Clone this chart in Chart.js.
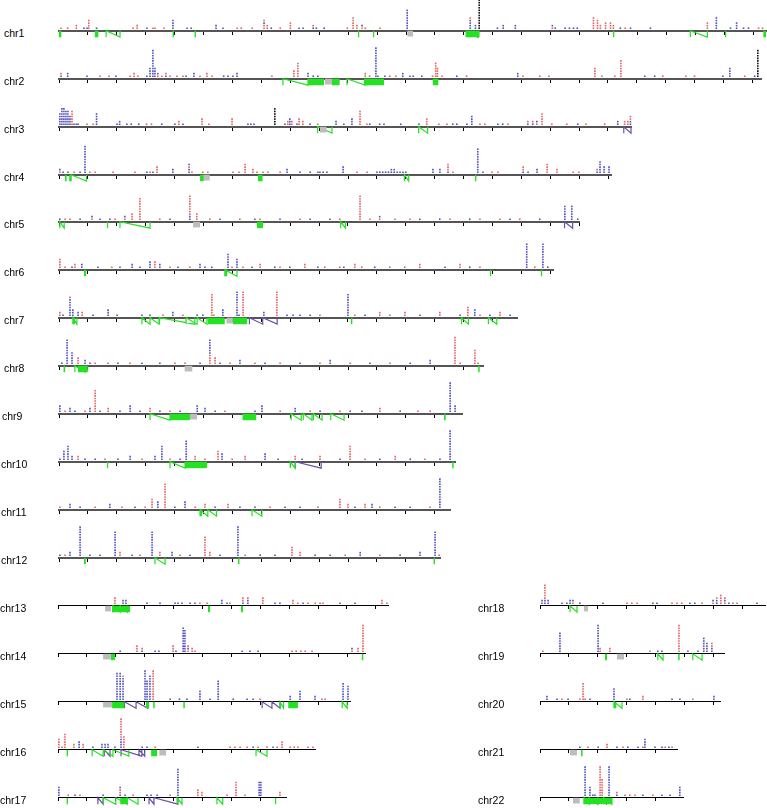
<!DOCTYPE html>
<html>
<head>
<meta charset="utf-8">
<script src="https://cdn.jsdelivr.net/npm/chart.js@4/dist/chart.umd.min.js"></script>
<style>
body { margin:0; background:#fff; width:767px; height:808px; overflow:hidden; position:relative; font-family:"Liberation Sans", Arial, sans-serif; }
canvas { position:absolute; }
.lab { position:absolute; font-size:10.5px; line-height:14px; color:#000; }
</style>
</head>
<body>
<script>
// chromosome names and lengths (Mb)
var chroms = ['chr1','chr2','chr3','chr4','chr5','chr6','chr7','chr8','chr9','chr10','chr11','chr12',
              'chr13','chr14','chr15','chr16','chr17','chr18','chr19','chr20','chr21','chr22'];
var lengths = [250, 243, 198, 191, 180, 171, 158.5, 146.7, 139.4, 137, 135.3, 131.8,
               114.2, 106.2, 101, 88.9, 78.9, 77.9, 63.7, 62.3, 47.4, 49.5];

// centromere spans (Mb)
var centromeres = [[120.4,122.5],[92,94.5],[90.3,92.7],[49.8,52.2],[46.4,48.8],null,[57.9,60.2],[43.4,46.2],
                   [45.3,47.8],null,null,null,[16.3,18.3],[15.6,18.3],[15.6,18.7],[35,37.4],null,
                   [15.2,16.6],[26.6,29.1],null,[10.4,12.8],[11.4,13.8]];

// stacked calls per chromosome: [position Mb, colours bottom->top] r=red b=blue k=black
var stacks = [
 // chr1
 [[0.7,'r'],[3,'r'],[6,'rr'],[8.6,'b'],[9.7,'b'],[10.3,'rrrr'],[13,'b'],[25.6,'r'],[27,'rr'],[30.4,'b'],[32.5,'r'],[33.2,'r'],
  [36.3,'r'],[39.4,'bbbb'],[44.3,'b'],[45.7,'b'],[54.3,'bb'],[56.7,'b'],[61.6,'r'],[63,'r'],[66.8,'r'],[70.9,'rrbr'],[72,'rr'],
  [73.4,'b'],[76.5,'r'],[80,'rrr'],[83,'b'],[84.4,'b'],[87.9,'br'],[89,'b'],[91.7,'b'],[99.7,'r'],[101.7,'rrrrr'],[103,'rr'],
  [104.8,'rb'],[105.9,'r'],[111,'r'],[120.4,'bbbbbbbb'],[142.2,'bbbbr'],[144,'bb'],[145.3,'kkkkkkkkkkkkk'],[151.6,'b'],
  [153.6,'bb'],[157.8,'bb'],[170.6,'rb'],[171.6,'b'],[175,'b'],[176.5,'b'],[177.9,'b'],[179.2,'b'],[184.8,'rrrrr'],[186.2,'rrrr'],
  [187.2,'rr'],[189,'rrr'],[190.7,'rrr'],[191.7,'rr'],[194.1,'b'],[195.8,'r'],[197.6,'b'],[204.5,'b'],[224.2,'rrr'],[227.3,'bbbbb'],
  [232.2,'b'],[234.3,'bbb'],[236.7,'b'],[238.4,'b'],[241.9,'r'],[243.3,'r']],
 // chr2
 [[0.7,'br'],[3,'bb'],[9.7,'b'],[14.2,'r'],[17.3,'r'],[19.7,'b'],[24.6,'r'],[26,'rr'],[27.3,'r'],[30.4,'b'],[31.5,'bbbb'],
  [32.5,'bbbbbbbbbbb'],[33.2,'bbbb'],[34.2,'rb'],[35.6,'r'],[37,'br'],[38.4,'r'],[40.8,'r'],[42.9,'r'],[44,'b'],[46.7,'bb'],
  [48.8,'r'],[51.2,'rr'],[53,'r'],[57,'b'],[58.5,'b'],[60.2,'b'],[61.6,'bb'],[73.7,'r'],[81.3,'rrr'],[82.7,'rrrrrr'],[86.2,'bb'],
  [88,'b'],[89.6,'b'],[106,'rr'],[107.5,'r'],[109.7,'bbbbbbbbbbbb'],[110.4,'b'],[112.8,'b'],[114.5,'r'],[116.6,'r'],[119,'bb'],
  [121.5,'b'],[122.6,'b'],[125.6,'b'],[129.3,'r'],[130.4,'rrrrrr'],[131,'rrrr'],[132.6,'r'],[137.7,'b'],[141.1,'r'],[158.8,'bb'],
  [160.6,'r'],[166.4,'r'],[169.6,'r'],[185.5,'rrrr'],[187.9,'r'],[192.4,'r'],[194.5,'rrrrrrr'],[202.8,'b'],[206.2,'b'],[209,'r'],
  [217,'r'],[220,'r'],[229.8,'b'],[232.2,'bbbb'],[237.4,'r'],[240.8,'b'],[241.9,'kkkkkkkkkkk']],
 // chr3
 [[0.3,'bbbbb'],[1,'bbbbbbb'],[1.7,'bbbbbbb'],[2.4,'bbbbbb'],[3.1,'bbbbbb'],[3.8,'bbbb'],[4.5,'rrrrrr'],[5.2,'b'],[6,'b'],[6.6,'b'],
  [9.7,'r'],[11.8,'r'],[13,'bbbbb'],[20.1,'b'],[21,'bb'],[23.5,'b'],[25,'b'],[27.6,'b'],[30.3,'r'],[32,'r'],[35.6,'b'],[40.1,'b'],
  [41.5,'rr'],[42.9,'b'],[49.5,'rrr'],[51.9,'r'],[59.9,'rrr'],[65.4,'b'],[66.4,'b'],[67.5,'b'],[74.7,'kkkkkkk'],[78.2,'b'],
  [79.2,'rr'],[79.9,'bbb'],[80.6,'rr'],[82.4,'b'],[83.1,'rrr'],[84.4,'rr'],[86.9,'b'],[89.6,'r'],[95.9,'bb'],[98.6,'b'],
  [101.4,'bbb'],[104.2,'rrrrrr'],[106.6,'r'],[107.6,'b'],[111,'b'],[112.5,'b'],[118.3,'b'],[124.6,'b'],[127.3,'rrr'],[131.5,'r'],
  [134.3,'r'],[136.3,'b'],[137.7,'b'],[141.2,'b'],[142.9,'bbbb'],[145.7,'r'],[147.4,'r'],[151.9,'b'],[153.6,'b'],[155.4,'r'],
  [162.3,'br'],[164,'br'],[165.4,'rb'],[167.2,'rrrrr'],[170.6,'r'],[175.8,'r'],[179.6,'b'],[182.4,'r'],[188.9,'r'],[193.4,'bb'],
  [195.8,'rr'],[196.9,'rr'],[197.8,'bbrr']],
 // chr4
 [[0.3,'rb'],[1.4,'b'],[3.1,'b'],[5.2,'r'],[7.3,'b'],[9,'bbbbbbbbbbb'],[10.7,'r'],[12.5,'r'],[18.7,'r'],[26.3,'r'],[30.4,'b'],
  [31.5,'r'],[32.5,'b'],[33.9,'rrr'],[39.4,'bb'],[45,'bbrb'],[46,'r'],[49.8,'r'],[51.5,'r'],[60.2,'r'],[62.3,'r'],[64.4,'rrrr'],
  [67.1,'rr'],[68.5,'r'],[70.6,'r'],[72.3,'r'],[76.5,'r'],[78.9,'bb'],[83.4,'b'],[86.9,'b'],[89.6,'b'],[90.3,'b'],[91.4,'b'],
  [92.7,'b'],[98.3,'bbb'],[103.1,'r'],[106.6,'r'],[110,'b'],[111,'b'],[112,'b'],[113,'b'],[114,'b'],[115,'bb'],[116,'bb'],
  [117,'b'],[118,'b'],[119,'b'],[120,'b'],[129.4,'bb'],[131.8,'bb'],[134.6,'brrr'],[136.3,'r'],[144.9,'bbbbbbbbbb'],[146.7,'b'],
  [149.8,'r'],[151.9,'r'],[160.6,'brr'],[162.3,'b'],[165.4,'bb'],[168.9,'rrrr'],[172.3,'rr'],[177.9,'r'],[179.9,'r'],[186.2,'br'],
  [187.2,'bbbbb'],[188.6,'bbb'],[190.3,'bbb']],
 // chr5
 [[0.3,'b'],[2.1,'r'],[3.8,'r'],[7.3,'b'],[11.4,'rb'],[14.2,'b'],[17.6,'b'],[19.4,'r'],[22.8,'rb'],[25.3,'rrr'],[28,'rrrrrrrrr'],
  [34.9,'r'],[38.4,'b'],[45.3,'bbrrrrrrrr'],[47.7,'rrr'],[52.2,'r'],[55.7,'b'],[62.6,'r'],[67.8,'b'],[69.6,'r'],[76.5,'b'],
  [83.4,'r'],[86.9,'b'],[93.8,'b'],[97.2,'r'],[104.2,'rrrrrrrrrr'],[107.6,'r'],[111,'rb'],[116.3,'r'],[121.5,'r'],[124.9,'b'],
  [131.8,'b'],[135.3,'r'],[142.2,'b'],[145.7,'r'],[152.6,'r'],[156.1,'b'],[159.5,'r'],[166.4,'b'],[175.1,'bbbbbb'],
  [177.5,'bbbbbb'],[179.6,'b']],
 // chr6
 [[0.3,'rrrr'],[2.1,'r'],[4.5,'b'],[5.5,'rr'],[7.9,'bb'],[13.5,'b'],[18.3,'r'],[21.1,'b'],[25.3,'bb'],[28,'b'],[31.5,'bbb'],
  [33.2,'rrr'],[34.9,'bb'],[38.4,'r'],[41.2,'b'],[45.3,'r'],[48.8,'bb'],[50.5,'b'],[52.9,'b'],[58.5,'bbbbbb'],[59.9,'r'],
  [61.6,'bbbb'],[63.7,'r'],[66.8,'b'],[69.6,'rr'],[74.7,'b'],[76.5,'r'],[79.9,'b'],[85.1,'rr'],[89.6,'b'],[92,'r'],[97.2,'r'],
  [98.6,'b'],[102.4,'rr'],[104.8,'r'],[109.3,'b'],[114.5,'r'],[119.7,'r'],[124.9,'rr'],[133.6,'b'],[138.8,'rr'],[142.2,'b'],
  [145.7,'r'],[161.9,'bbbbbbbbbb'],[164.7,'r'],[167.5,'bbbbbbbbbb'],[169.2,'b']],
 // chr7
 [[0.3,'rr'],[1.4,'b'],[3.8,'bbbbbbbr'],[4.8,'bbb'],[6.6,'bb'],[8,'rr'],[11.8,'b'],[17,'bbb'],[20.1,'b'],[28.7,'b'],[31.5,'b'],
  [36,'r'],[39.4,'bb'],[42.9,'r'],[47.8,'b'],[49.8,'b'],[52.9,'rrrrrrrrr'],[53.6,'r'],[56.7,'bbb'],[61.6,'bbbbrbbbbb'],[62.3,'b'],
  [63.7,'rrrrrrrrrr'],[70.9,'bb'],[75.4,'rrrrrrrrrr'],[78.9,'b'],[81,'b'],[83.4,'b'],[86.9,'b'],[90.3,'r'],[100,'bbbbbbbbb'],
  [102.4,'r'],[105.9,'b'],[111,'rr'],[114.5,'r'],[119.7,'rr'],[124.9,'b'],[131.8,'rr'],[138.8,'b'],[141.5,'rrrr'],[143.9,'bbb'],
  [145.7,'r'],[149.1,'b'],[152.6,'rr'],[156.1,'b']],
 // chr8
 [[1,'b'],[2.8,'bbbbbbbbbb'],[4.5,'bbbbb'],[6.6,'rrr'],[9,'bb'],[10.7,'b'],[12.5,'r'],[17,'r'],[20.4,'b'],[24.6,'r'],[28.7,'b'],
  [34.9,'b'],[40.1,'r'],[43.6,'r'],[48.8,'b'],[52.2,'rrrrbbbbbb'],[54,'rrr'],[55.7,'b'],[59.2,'r'],[62.6,'bb'],[67.8,'r'],
  [71.3,'b'],[76.5,'r'],[83.4,'b'],[90.3,'r'],[93.8,'bb'],[100.7,'r'],[107.6,'b'],[114.5,'r'],[121.5,'b'],[128.4,'bb'],
  [137,'rrrrrrrrrrr'],[138.8,'r'],[143.9,'rrrrrr'],[145,'r']],
 // chr9
 [[0.3,'bbb'],[2.1,'r'],[3.8,'bb'],[5.5,'b'],[9,'r'],[10.7,'bb'],[12.5,'rrrrrrrrr'],[14.2,'b'],[17,'rr'],[21.1,'b'],[24.6,'bbb'],
  [28,'b'],[31.5,'rr'],[34.9,'b'],[38.4,'r'],[41.9,'b'],[47.8,'bbb'],[50.5,'bb'],[54,'b'],[57.4,'r'],[67.8,'b'],[70.2,'bbb'],
  [76.5,'r'],[81.7,'bb'],[86.9,'r'],[90.3,'b'],[97.2,'r'],[100.7,'b'],[104.8,'b'],[111,'rr'],[118,'b'],[124.2,'r'],[128.4,'r'],
  [135.3,'bbbbbbbbbbbb'],[137,'bbb']],
 // chr10
 [[0.3,'b'],[1.7,'bbbb'],[3.1,'bbbbbb'],[4.5,'bb'],[6.6,'rr'],[9,'b'],[12.5,'b'],[15.9,'r'],[20.4,'b'],[24.6,'bb'],[28.7,'r'],
  [33.2,'bb'],[35.6,'bbbbbb'],[38.4,'r'],[41.9,'b'],[44,'bbbbbbbb'],[47.1,'rr'],[50.5,'r'],[55,'rrrr'],[56.4,'bbb'],[59.9,'r'],
  [64.4,'rr'],[71.3,'bbb'],[75.8,'b'],[81.7,'rr'],[84.1,'b'],[90.3,'rr'],[97.2,'b'],[100.7,'rrrrrr'],[105.9,'r'],[111,'b'],
  [116.3,'rr'],[121.5,'b'],[126.6,'r'],[131.8,'b'],[135.3,'bbbbbbbbbbbb']],
 // chr11
 [[0.3,'r'],[3.8,'bb'],[7.3,'b'],[12.5,'r'],[17.6,'bb'],[21.8,'r'],[26.3,'b'],[29.8,'r'],[32.2,'rrrr'],[34.2,'bbb'],
  [36.7,'rrrrrrrrrr'],[40.1,'b'],[43.6,'bbb'],[47.1,'r'],[50.5,'rr'],[54,'b'],[58.5,'rr'],[62.6,'b'],[67.8,'b'],[73,'r'],
  [78.2,'b'],[83.4,'b'],[89.6,'r'],[97.2,'rrrr'],[100,'rr'],[102.4,'b'],[105.9,'rr'],[108.3,'bb'],[111,'r'],[116.3,'b'],
  [121.5,'b'],[128.4,'r'],[131.8,'bbbbbbbbbbbb']],
 // chr12
 [[0.3,'b'],[2.1,'r'],[3.8,'bb'],[7.3,'bbbbbbbbbbbb'],[10.7,'b'],[14.2,'b'],[19.4,'bbbbbbbbbb'],[21.1,'rr'],[25.3,'b'],[28,'r'],
  [32.2,'bbbbbbbbbb'],[34.9,'rr'],[39.1,'bb'],[41.9,'r'],[45.3,'b'],[50.5,'rrrrrrrr'],[52.2,'rr'],[55.7,'b'],[61.9,'bbbbbbbbbbbb'],
  [64.4,'r'],[69.6,'b'],[74.7,'b'],[80.6,'rrrr'],[83.4,'rr'],[88.6,'b'],[93.8,'b'],[99,'r'],[104.2,'bb'],[111,'r'],[118,'b'],
  [124.9,'bb'],[130.1,'bbbbbbbbbb'],[131.5,'r']],
 // chr13
 [[19.7,'rrr'],[22.5,'bb'],[23.5,'bb'],[30.8,'b'],[35.3,'b'],[40.5,'b'],[41.5,'b'],[42.9,'b'],[45.7,'b'],[47.4,'b'],[49.1,'r'],
  [51.6,'r'],[56.7,'bb'],[58.5,'b'],[59.5,'r'],[64,'brr'],[65.7,'bbr'],[70.9,'rrr'],[75.1,'b'],[76.8,'b'],[81.3,'rr'],[83,'r'],
  [84.8,'b'],[86.5,'r'],[89,'r'],[90.7,'r'],[91.7,'r'],[97.6,'b'],[102.8,'b'],[112.1,'rr'],[113.8,'r']],
 // chr14
 [[21.5,'b'],[27.3,'rrr'],[29.1,'br'],[33.6,'b'],[34.9,'b'],[39.8,'rrr'],[40.8,'b'],[43.3,'bbbbbbbbbb'],[43.9,'bbbbbbbbb'],
  [45,'rbr'],[46.4,'rr'],[47.4,'r'],[63.7,'b'],[66.4,'b'],[69.2,'b'],[81,'r'],[82.4,'r'],[84,'r'],[85.5,'r'],[87.9,'r'],
  [101.7,'rb'],[103.8,'rr'],[105.5,'rrrrrrrrrrr']],
 // chr15
 [[20.4,'bbbbbbbbbbb'],[21.5,'bbbbbbbbbbb'],[22.5,'bbbbbbbbbr'],[30.1,'bbbbbbbbbbbb'],[30.8,'bbbbbbbb'],[31.8,'bbbbbbbbbb'],
  [32.9,'rrrrrrrrrrrr'],[38.8,'b'],[42,'b'],[44.6,'b'],[49.1,'bbbb'],[52.6,'b'],[55.4,'bbbbbbbb'],[60.6,'b'],[65.4,'b'],[67.5,'b'],
  [69.9,'r'],[80.3,'bb'],[83.7,'bbbb'],[88.9,'bb'],[91.3,'r'],[92.4,'r'],[98.6,'bbbbbbb'],[100.3,'bbbbbb']],
 // chr16
 [[0.3,'rrrr'],[1.4,'r'],[2.4,'rrrrrr'],[5.5,'rr'],[7.3,'bbb'],[8.7,'rr'],[12.1,'b'],[15.2,'bb'],[16.3,'bb'],[17.3,'bb'],
  [19.7,'b'],[21.8,'bbbbrrrrrrrr'],[22.8,'rrrrr'],[29.1,'b'],[30.8,'b'],[33.6,'r'],[48.4,'b'],[59.5,'r'],[61.2,'r'],[63,'r'],
  [65.4,'r'],[67.5,'b'],[69.2,'r'],[72.3,'r'],[74.4,'b'],[75.8,'r'],[77.5,'rrr'],[80.3,'r'],[81.7,'r'],[83,'r'],[86.5,'r'],[88.2,'r']],
 // chr17
 [[0.3,'bbbb'],[3.5,'r'],[5.9,'b'],[7.6,'r'],[15.6,'b'],[21.5,'brrb'],[23.2,'b'],[26,'r'],[30.8,'b'],[32.2,'b'],[34.3,'b'],
  [38.8,'r'],[41.5,'bbbbbbbbbbb'],[48.4,'rrr'],[49.8,'rr'],[58.5,'r'],[61.6,'rrrrrr'],[64.7,'r'],[69.6,'bbbbbb'],[70.2,'bbbbbb'],
  [76.8,'rr']],
 // chr18
 [[0.7,'bb'],[1.7,'bbrrrrrr'],[2.8,'bb'],[7.6,'b'],[9.3,'b'],[10.4,'bb'],[11.4,'rb'],[13.8,'b'],[21.8,'b'],[30.1,'r'],[31.8,'r'],
  [33.6,'r'],[39.1,'b'],[40.5,'b'],[45.7,'r'],[47.4,'r'],[49.1,'r'],[51.9,'b'],[53.6,'b'],[56.1,'r'],[59.9,'rb'],[61.2,'bbr'],
  [62.6,'rrrr'],[64,'rbr'],[65.4,'b'],[66.8,'r'],[68.2,'r'],[75.1,'b']],
 // chr19
 [[1,'r'],[6.9,'bbbbbbbb'],[20.1,'bbbbbbbbbbb'],[20.8,'rr'],[24.2,'rr'],[38.1,'r'],[40.8,'b'],[42.2,'b'],[48.1,'rrrrrrrrrrr'],
  [51.2,'b'],[54.7,'b'],[56.7,'bbbbbb'],[57.8,'bbbb'],[59.5,'bbrr']],
 // chr20
 [[2.4,'bb'],[5.9,'b'],[7.6,'r'],[9.7,'b'],[13.8,'r'],[14.9,'rrrrrrr'],[15.6,'r'],[17.3,'b'],[25.6,'bbbbb'],[30.1,'r'],[31.1,'b'],
  [35.6,'rr'],[45.7,'b'],[48.4,'b'],[52.9,'r'],[60.2,'bb']],
 // chr21
 [[13.8,'b'],[16.6,'r'],[20.1,'b'],[23.2,'rr'],[26.6,'b'],[28.7,'r'],[30.4,'b'],[33.9,'b'],[35.6,'r'],[36.3,'bbbb'],[39.8,'b'],
  [42.2,'b'],[43.3,'r'],[44.6,'b'],[45.7,'r']],
 // chr22
 [[15.6,'bbbbbbbbbbbb'],[17.3,'bbbb'],[18.3,'b'],[19,'b'],[20.8,'rrrrrrrrrrrr'],[21.5,'rrrrrrr'],[23.9,'bbbbbbbbbbbb'],[26.6,'br'],
  [29.4,'r'],[31.1,'r'],[32.9,'r'],[35.6,'b'],[39.1,'r'],[42.2,'b'],[45,'b'],[48.4,'bbbb']]
];

// filled green segments below the axis (Mb)
var blocks = [
 [[0,0.9],[12.3,13.7],[39.2,39.8],[46.8,47.4],[103.3,103.9],[108.5,109.1],[140.5,145.5],[191.5,192.1],[230.2,230.8],[243.5,244.5]],
 [[86.2,91.8],[94.5,97.2],[105.5,112.5],[129.3,131.4]],
 [],
 [[2,2.7],[3.5,4.2],[48.8,50.1],[68.8,70.5],[143.9,144.5]],
 [[16.5,17.1],[68.5,70.6]],
 [[8.6,9.5],[57.4,58.3],[149.1,149.7],[166.7,167.3]],
 [[4.8,5.6],[51.4,57.4],[60.2,65.2],[101,101.6]],
 [[1.5,2.2],[6.5,10],[145,145.6]],
 [[38.4,45.3],[63.4,68.3],[133.1,133.8]],
 [[16.5,17.1],[43.6,51.2],[136,136.6]],
 [[48.8,49.5]],
 [[8.6,9.3],[61.9,62.5],[129.5,130.1]],
 [[18.7,25],[51.9,52.6],[63.3,64]],
 [[18.3,19.7],[105,105.7]],
 [[18.7,23],[30.4,31.5],[32.9,33.5],[43.3,43.9],[79.6,83]],
 [[2.9,3.5],[32.2,34.3]],
 [[2.9,3.5],[21.5,24],[75,75.6]],
 [],
 [[22.5,23.2],[47.8,48.4]],
 [[25.6,26.5]],
 [[14.2,14.8]],
 [[15.2,24.9]]
];

// green links drawn as N shapes (start Mb, end Mb)
var links = [
 [[16.3,21.1],[218.3,224.2]],
 [[77.5,86.2],[99.7,105.9]],
 [[89.5,94.5],[124.5,127.6]],
 [[4.2,9.5],[119.5,121]],
 [[0.3,1.8],[21.1,31.5],[97.5,99.2]],
 [[57.4,61.6]],
 [[4.8,6.2],[28.7,31.5],[31.5,34.6],[34.8,47],[44,47.8],[47.8,51.2],[139.3,141.7],[148.6,151.5]],
 [[5.5,9]],
 [[31.5,38.4],[80.3,83.8],[84.5,87.5],[88,91],[94,98.6]],
 [[38.4,43.6],[80,81.7]],
 [[48.8,51.5],[51.5,54.5],[66.8,70.2]],
 [[33.2,36.7]],
 [[19,21.5],[21.5,24]],
 [],
 [[76.8,78],[98.3,100]],
 [[11.8,15.6],[15.6,19],[19,24.5],[68.5,72.3]],
 [[15.6,20],[20,24],[24,27.7],[41.2,42.9],[55,57]],
 [[10.4,12.8]],
 [[40.8,42.6],[52.9,56.1]],
 [[25.6,28.4]],
 [],
 [[15.2,17],[22,24.9]]
];

// purple / slate links
var darkLinks = [
 [[142.2,144.8]], [], [[195.5,198]], [], [[175,177.8]], [], [[65.9,70.5],[70.5,75.5]], [], [], [[81.7,90.7]], [], [],
 [], [], [[23,27],[27,31],[70.6,74],[74,76.8]], [[16,18],[21.8,29],[28,30]], [[13.8,15.6],[31.5,33.2],[33.2,41.5]],
 [], [], [], [], [[17,20],[20,23]]
];

// page layout (pixels)
var rowY = [33,81,129,177,224,272,320,368,416,464,512,560,608,656,704,752,800,608,656,704,752,800];
var rowX0 = [59,59,59,59,59,59,59,59,59,59,59,59,58,58,58,58,58,540,540,540,540,540];
var labelX = [4,4,4,4,4,4,4,4,2,1,1,1,0,0,0,0,0,478,478,478,478,478];

var SCALE = 2.89;   // px per Mb
var TOP = 14, BOTTOM = -4, UNIT = 3;
var GREEN = '#22e222', RED = '#e36464', BLUE = '#5252c2', BLACK = '#111111';

function nShapes(list){
    var pts = [];
    list.forEach(function(l){
        pts.push({x:l[0], y:-2.5}, {x:l[0], y:0}, {x:l[1], y:-2.5}, {x:l[1], y:0}, {x:l[1], y:null});
    });
    return pts;
}

function drawChrom(i){
    var len = lengths[i];
    var w = Math.round(len * SCALE);
    var h = (TOP - BOTTOM) * UNIT;
    var canvas = document.createElement('canvas');
    canvas.width = w + 8;
    canvas.height = h;
    canvas.style.left = (rowX0[i] - 4) + 'px';
    canvas.style.top = (rowY[i] - TOP * UNIT) + 'px';
    document.body.appendChild(canvas);

    var lab = document.createElement('div');
    lab.className = 'lab';
    lab.innerText = chroms[i];
    lab.style.left = labelX[i] + 'px';
    lab.style.top = (rowY[i] - 7) + 'px';
    document.body.appendChild(lab);

    var red = [], blue = [], black = [];
    stacks[i].forEach(function(s){
        for (var k = 0; k < s[1].length; k++) {
            var p = {x: s[0], y: k + 1};
            var c = s[1][k];
            if (c === 'r') red.push(p); else if (c === 'b') blue.push(p); else black.push(p);
        }
    });

    var datasets = [];
    blocks[i].forEach(function(b){
        datasets.push({type:'line', data:[{x:b[0], y:-2.5}, {x:b[1], y:-2.5}], fill:'origin',
            backgroundColor:GREEN, borderColor:GREEN, borderWidth:0, pointRadius:0, clip:false});
    });
    if (centromeres[i]) {
        var c = centromeres[i];
        datasets.push({type:'line', data:[{x:c[0], y:-2.2}, {x:c[1], y:-2.2}], fill:'origin',
            backgroundColor:'#bdbdbd', borderWidth:0, pointRadius:0, clip:false});
    }
    datasets.push({type:'line', data:nShapes(links[i]), showLine:true, spanGaps:false, fill:false,
        borderColor:GREEN, borderWidth:1.2, pointRadius:0, clip:false});
    datasets.push({type:'line', data:nShapes(darkLinks[i]), showLine:true, spanGaps:false, fill:false,
        borderColor:'#6a4fa8', borderWidth:1.2, pointRadius:0, clip:false});
    [[red, RED], [blue, BLUE], [black, BLACK]].forEach(function(d){
        datasets.push({data:d[0], pointStyle:'rect', pointRadius:1.15, borderWidth:0,
            backgroundColor:d[1], borderColor:d[1], clip:false});
    });

    var bottomRow = i >= 12;
    new Chart(canvas, {
        type:'scatter',
        data:{datasets:datasets},
        options:{
            responsive:false, animation:false, devicePixelRatio:1, events:[],
            layout:{padding:{left:4, right:4, top:0, bottom:0}},
            plugins:{legend:{display:false}, tooltip:{enabled:false}},
            scales:{
                x:{type:'linear', min:0, max:len, position:{y:0},
                   border:{display:true, color: bottomRow ? '#000' : '#555', width: bottomRow ? 1 : 2},
                   grid:{drawOnChartArea:false, drawTicks:true, tickLength:3, color:'#000', lineWidth:1},
                   ticks:{display:false, stepSize:10, includeBounds:false, autoSkip:false}},
                y:{type:'linear', min:BOTTOM, max:TOP, display:false}
            }
        }
    });
}

for (var i = 0; i < chroms.length; i++) drawChrom(i);
</script>
</body>
</html>
